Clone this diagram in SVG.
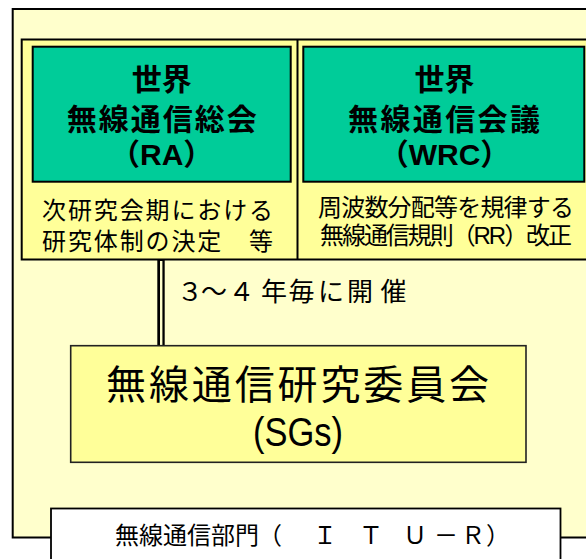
<svg xmlns="http://www.w3.org/2000/svg" width="586" height="559" viewBox="0 0 586 559">
<style>
.jp{font-family:"Liberation Sans","Noto Sans CJK JP","Noto Sans CJK SC",sans-serif;fill:#000}
.title{font-size:30px;font-weight:bold;text-anchor:middle}
.small{font-size:24px;text-anchor:middle}
.box{stroke:#000;stroke-width:2}
.green{fill:#00CC99}
</style>
<rect width="586" height="559" fill="#fff"/>
<g id="itu-r-frame">
<rect class="box" x="12.7" y="9" width="590" height="528.5" fill="#FFFFCC"/>
</g>
<g id="conferences">
<rect class="box" x="21.7" y="39.5" width="590" height="220" fill="#FFFF99"/>
<line x1="297.5" y1="39.5" x2="297.5" y2="259.5" stroke="#000" stroke-width="2"/>
</g>
<g id="ra">
<rect class="box green" x="32.7" y="46.7" width="258" height="135"/>
<text class="jp title" x="161.7" y="89.5">世界</text>
<text class="jp title" x="161.7" y="129.5" textLength="190" lengthAdjust="spacing">無線通信総会</text>
<text class="jp title" x="161.7" y="165">（RA）</text>
<text class="jp small" x="157.5" y="218.5" textLength="231" lengthAdjust="spacing">次研究会期における</text>
<text class="jp small" x="157.5" y="250" textLength="231" lengthAdjust="spacing">研究体制の決定　等</text>
</g>
<g id="wrc">
<rect class="box green" x="303.3" y="46.7" width="281" height="135"/>
<text class="jp title" x="444.5" y="89.5">世界</text>
<text class="jp title" x="444" y="129.5" textLength="192" lengthAdjust="spacing">無線通信会議</text>
<text class="jp title" x="444.5" y="165">（WRC）</text>
<text class="jp small" x="446" y="216" textLength="256" lengthAdjust="spacing">周波数分配等を規律する</text>
<text class="jp small" x="446" y="243.5" textLength="252" lengthAdjust="spacing">無線通信規則（RR）改正</text>
</g>
<g id="connectors">
<line x1="161" y1="259.5" x2="161" y2="345.7" stroke="#000" stroke-width="7.4"/>
<line x1="161.2" y1="261" x2="161.2" y2="345" stroke="#FFFFCC" stroke-width="2.4"/>
</g>
<g id="interval-label">
<text class="jp" font-size="26" x="177 201 228.5 261 288.5 318 347 380.5" y="300.5">３～４年毎に開催</text>
</g>
<g id="sg">
<rect x="70.7" y="345.7" width="455.3" height="116.6" fill="#FFFF99" stroke="#222" stroke-width="1.6"/>
<text class="jp" font-size="40" x="106" y="399" textLength="383" lengthAdjust="spacing">無線通信研究委員会</text>
<text class="jp" font-size="40" x="298" y="446" text-anchor="middle" textLength="90" lengthAdjust="spacingAndGlyphs">(SGs)</text>
</g>
<g id="itu-r-label">
<rect x="51" y="508.5" width="509.5" height="60" fill="#fff" stroke="#000" stroke-width="1.8"/>
<text class="jp" font-size="24" x="115" y="544">無線通信部門</text>
<text class="jp" font-size="24" x="258 313 359 403 434 461 486" y="544">（ＩＴＵ－Ｒ）</text>
</g>
</svg>
